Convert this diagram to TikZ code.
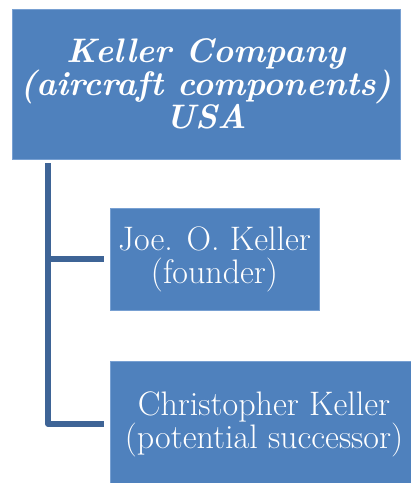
\documentclass[tikz,border=0pt]{standalone}
\usetikzlibrary{calc}
\definecolor{boxblue}{RGB}{79,129,189}
\definecolor{boxedge}{RGB}{120,160,210}
\definecolor{linkblue}{RGB}{62,100,150}
\tikzset{
  orgbox/.style={fill=boxblue, draw=boxedge, line width=0.8pt, text=white, align=center, inner sep=0pt},
  conn/.style={draw=linkblue, line width=5.5pt, line join=round}
}
\begin{document}
\begin{tikzpicture}[x=1pt,y=1pt]
\useasboundingbox (0,0) rectangle (411,-483);
\clip (0,0) rectangle (411,-483);
\node[orgbox, minimum width=388pt, minimum height=150pt, font=\fontsize{34}{33}\selectfont\bfseries\itshape] (top) at (206,-84)
  {Keller Company\\(aircraft components)\\USA};
\node[orgbox, minimum width=209pt, minimum height=102pt, font=\fontsize{34}{33}\selectfont] (joe) at (214.5,-259)
  {Joe. O. Keller\\(founder)};
\node[orgbox, minimum width=308pt, minimum height=126pt, font=\fontsize{34}{32}\selectfont] (chris) at (264,-424)
  {Christopher Keller\\(potential successor)};
\coordinate (trunk) at (48,-163);
\draw[conn] (trunk) |- ([xshift=-6pt]chris.west);
\draw[conn] (trunk |- joe.west) -- ([xshift=-6pt]joe.west);
\end{tikzpicture}
\end{document}
